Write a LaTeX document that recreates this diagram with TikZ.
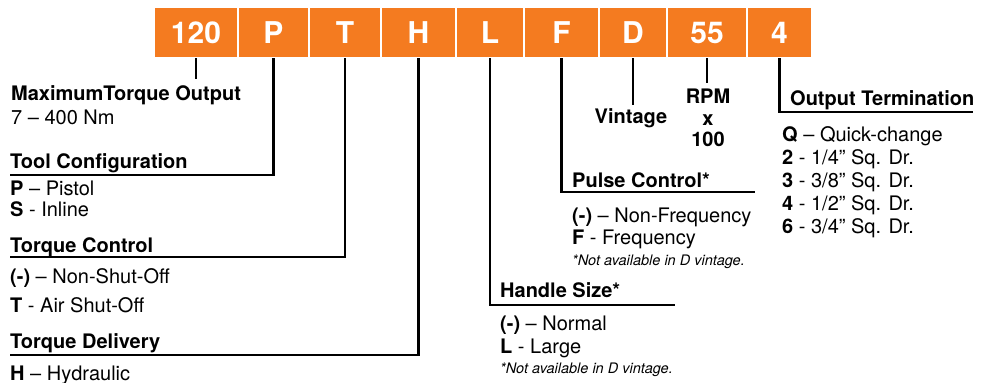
\documentclass[tikz,border=0pt]{standalone}
\usepackage{fontspec}
\setmainfont{TeX Gyre Heros}
\usepackage{xcolor}
\usetikzlibrary{positioning}
\definecolor{codeorange}{HTML}{F47B20}
\tikzset{
codebox/.style={
fill=codeorange,
draw=white,
line width=1.2pt,
outer sep=0pt,
inner sep=0pt,
minimum height=51pt,
text=white,
font=\fontsize{30}{30}\selectfont\bfseries
},
lead/.style={
line width=2.2pt
},
head/.style={
anchor=base west,
inner sep=0pt,
font=\fontsize{20}{22}\selectfont\bfseries
},
items/.style={
anchor=base west,
inner sep=0pt,
font=\fontsize{20}{22}\selectfont
},
note/.style={
anchor=base west,
inner sep=0pt,
font=\fontsize{14.5}{17}\selectfont\itshape
}
}

\begin{document}
\begin{tikzpicture}[x=1pt,y=-1pt]
\useasboundingbox (0,0) rectangle (986,383);

% model code boxes
\node (b120) [codebox, minimum width=84pt, anchor=north west] at (154,7) {120};
\node (bP) [codebox, minimum width=71pt, right=0pt of b120] {P};
\node (bT) [codebox, minimum width=72pt, right=0pt of bP] {T};
\node (bH) [codebox, minimum width=75pt, right=0pt of bT] {H};
\node (bL) [codebox, minimum width=68pt, right=0pt of bH] {L};
\node (bF) [codebox, minimum width=75pt, right=0pt of bL] {F};
\node (bD) [codebox, minimum width=68pt, right=0pt of bF] {D};
\node (b55) [codebox, minimum width=80pt, right=0pt of bD] {55};
\node (b4) [codebox, minimum width=65pt, right=0pt of b55] {4};

% left column
\node (maxhead) [head] at (11,100) {MaximumTorque Output};
\node (maxitems) [items] at (11,124) {7 – 400 Nm};
\coordinate (maxtick) at ([yshift=-21pt]b120.south);
\draw [lead] (b120.south) -- (maxtick);

\node (toolhead) [head] at (10,168) {Tool Configuration};
\node (toolitems) [items] at (10,195) {
\begin{tabular}[t]{@{}l@{}}
\textbf{P} – Pistol\\[-1pt]
\textbf{S} - Inline
\end{tabular}
};
\coordinate (toolcorner) at (10,175);
\draw [lead] (bP.south) |- (toolcorner);

\node (ctrlhead) [head] at (10,252) {Torque Control};
\node (ctrlitems) [items] at (10,283) {
\begin{tabular}[t]{@{}l@{}}
\textbf{(-)} – Non-Shut-Off\\[7pt]
\textbf{T} - Air Shut-Off
\end{tabular}
};
\coordinate (ctrlcorner) at (10,257);
\draw [lead] (bT.south) |- (ctrlcorner);

\node (delhead) [head] at (10,348) {Torque Delivery};
\node (delitems) [items] at (10,380) {\textbf{H} – Hydraulic};
\coordinate (delcorner) at (10,355);
\draw [lead] (bH.south) |- (delcorner);

% right side
\node (handlehead) [head] at (500,297) {Handle Size*};
\node (handleitems) [items] at (500,330) {
\begin{tabular}[t]{@{}l@{}}
\textbf{(-)} – Normal\\[1pt]
\textbf{L} - Large
\end{tabular}
};
\node (handlenote) [note] at (500,373) {*Not available in D vintage.};
\coordinate (handlecorner) at (675,305);
\draw [lead] (bL.south) |- (handlecorner);

\node (pulsehead) [head] at (572,187) {Pulse Control*};
\node (pulseitems) [items] at (572,222) {
\begin{tabular}[t]{@{}l@{}}
\textbf{(-)} – Non-Frequency\\
\textbf{F} - Frequency
\end{tabular}
};
\node (pulsenote) [note] at (572,265) {*Not available in D vintage.};
\coordinate (pulsecorner) at (755,192);
\draw [lead] (bF.south) |- (pulsecorner);

\coordinate (vintick) at ([yshift=-47pt]bD.south);
\draw [lead] (bD.south) -- (vintick);
\node (vintage) [head, anchor=base] at (631,123) {Vintage};

\coordinate (rpmtick) at ([yshift=-25pt]b55.south);
\draw [lead] (b55.south) -- (rpmtick);
\node (rpm) [head, anchor=base] at (708,103) {
\begin{tabular}[t]{@{}c@{}}
RPM\\
x\\[-1pt]
100
\end{tabular}
};

\node (outhead) [head] at (790,105) {Output Termination};
\node (outitems) [items, font=\fontsize{20}{23}\selectfont] at (782,141) {
\begin{tabular}[t]{@{}l@{}}
\textbf{Q} – Quick-change\\
\textbf{2} - 1/4” Sq. Dr.\\
\textbf{3} - 3/8” Sq. Dr.\\
\textbf{4} - 1/2” Sq. Dr.\\
\textbf{6} - 3/4” Sq. Dr.
\end{tabular}
};
\coordinate (outcorner) at (973,112);
\draw [lead] (b4.south) |- (outcorner);

\end{tikzpicture}
\end{document}
